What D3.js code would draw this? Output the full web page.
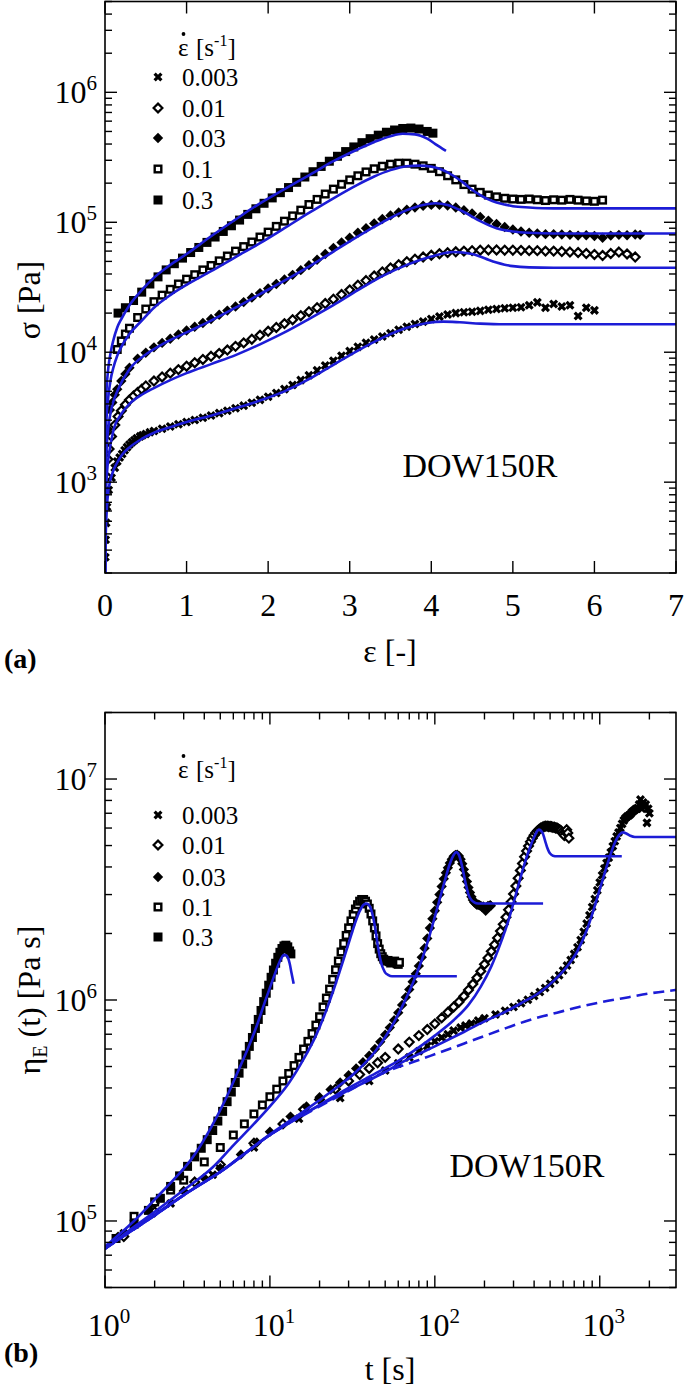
<!DOCTYPE html>
<html><head><meta charset="utf-8">
<script src="https://cdn.jsdelivr.net/npm/d3@7"></script>
<style>
body{margin:0;background:#fff;}
svg{display:block;}
text, tspan{font-family:"Liberation Serif","DejaVu Serif","Times New Roman",serif !important;}
</style></head><body>
<svg id="chart" width="685" height="1386" font-family="Liberation Serif, DejaVu Serif, serif"></svg>
<script>
// ---------- DATA (top-panel form: [strain, stress Pa]) ----------
const rates = [0.003, 0.01, 0.03, 0.1, 0.3];
const rateLabels = ["0.003", "0.01", "0.03", "0.1", "0.3"];
const markerTypes = ["cross", "openDiamond", "diamond", "openSquare", "square"];

const exp_0003 = [[0.0039,264],[0.0075,360],[0.0135,486],[0.024,645],[0.045,870],[0.08,1080],[0.12,1290],[0.15,1440],[0.18,1550],[0.21,1650],[0.24,1760],[0.27,1860],[0.30,1950],[0.33,2030],[0.36,2100],[0.39,2180],[0.43,2250],[0.46,2300],[0.50,2350],[0.55,2420],[0.60,2480],[0.70,2580],[0.80,2680],[0.90,2790],[1.00,2900],[1.10,3010],[1.20,3130],[1.30,3260],[1.40,3400],[1.50,3550],[1.60,3700],[1.70,3880],[1.80,4080],[1.90,4300],[2.00,4550],[2.10,4850],[2.20,5200],[2.30,5600],[2.40,6100],[2.50,6650],[2.60,7250],[2.70,7900],[2.80,8600],[2.90,9400],[3.00,10200],[3.10,11000],[3.20,11800],[3.30,12500],[3.40,13200],[3.50,14000],[3.60,14900],[3.70,15700],[3.80,16500],[3.90,17200],[4.00,18000],[4.10,18800],[4.20,19500],[4.30,20000],[4.40,20300],[4.50,20500],[4.60,20800],[4.70,21200],[4.80,21500],[4.90,21800],[5.00,22000],[5.10,22200],[5.20,23000],[5.30,24200],[5.40,22000],[5.50,23500],[5.60,22500],[5.70,23000],[5.80,19000],[5.90,22000],[6.00,21000]];
const exp_001 = [[0.013,850],[0.02,1100],[0.035,1500],[0.05,1800],[0.08,2250],[0.12,2750],[0.16,3200],[0.2,3550],[0.25,3950],[0.3,4300],[0.35,4600],[0.4,4900],[0.45,5200],[0.5,5500],[0.6,6000],[0.7,6450],[0.8,6900],[0.9,7350],[1.0,7800],[1.1,8300],[1.2,8800],[1.3,9300],[1.4,9800],[1.5,10400],[1.6,11100],[1.7,11800],[1.8,12600],[1.9,13500],[2.0,14500],[2.1,15500],[2.2,16600],[2.3,17800],[2.4,19100],[2.5,20500],[2.6,22000],[2.7,23700],[2.8,25600],[2.9,27800],[3.0,30200],[3.1,32800],[3.2,35600],[3.3,38600],[3.4,41500],[3.5,44500],[3.6,47200],[3.7,49700],[3.8,52000],[3.9,54000],[4.0,55700],[4.1,57200],[4.2,58400],[4.3,59300],[4.4,60000],[4.5,60500],[4.6,61000],[4.7,61200],[4.8,61200],[4.9,61000],[5.0,61000],[5.1,60800],[5.2,60500],[5.3,60500],[5.4,60000],[5.5,60000],[5.6,59500],[5.7,59000],[5.8,58500],[5.9,57500],[6.0,56500],[6.1,55500],[6.2,57500],[6.3,59000],[6.4,57000],[6.5,54000]];
const exp_003 = [[0.036,2550],[0.06,3600],[0.09,4100],[0.12,4700],[0.15,5200],[0.2,6000],[0.25,6800],[0.3,7600],[0.4,8900],[0.5,9900],[0.6,10900],[0.7,11800],[0.8,12700],[0.9,13700],[1.0,14700],[1.1,15700],[1.2,16800],[1.3,18000],[1.4,19400],[1.5,20900],[1.6,22500],[1.7,24300],[1.8,26300],[1.9,28500],[2.0,30900],[2.1,33500],[2.2,36300],[2.3,39400],[2.4,42800],[2.5,46800],[2.6,51500],[2.7,57000],[2.8,63500],[2.9,70000],[3.0,76000],[3.1,83000],[3.2,90000],[3.3,98000],[3.4,106000],[3.5,113000],[3.6,119000],[3.7,125000],[3.8,130000],[3.9,134000],[4.0,136000],[4.1,136500],[4.2,134500],[4.3,130000],[4.4,124000],[4.5,117000],[4.6,110000],[4.7,103000],[4.8,97000],[4.9,92000],[5.0,88000],[5.1,85000],[5.2,83000],[5.3,82000],[5.4,81000],[5.5,81000],[5.6,80500],[5.7,80000],[5.8,79000],[5.9,79500],[6.0,78500],[6.1,76000],[6.2,79000],[6.3,80000],[6.4,79500],[6.5,80500],[6.56,80000]];
const exp_01 = [[0.15,10500],[0.2,12200],[0.25,13800],[0.3,15300],[0.4,18500],[0.5,21500],[0.6,24500],[0.7,27500],[0.8,30500],[0.9,33500],[1.0,36500],[1.1,39500],[1.2,43000],[1.3,46500],[1.4,50500],[1.5,55000],[1.6,60000],[1.7,65000],[1.8,70500],[1.9,77000],[2.0,84000],[2.1,93000],[2.2,102000],[2.3,112000],[2.4,124000],[2.5,137000],[2.6,150000],[2.7,165000],[2.8,180000],[2.9,196000],[3.0,212000],[3.1,228000],[3.2,244000],[3.3,258000],[3.4,270000],[3.5,280000],[3.6,285000],[3.7,285000],[3.8,280000],[3.9,272000],[4.0,260000],[4.1,245000],[4.2,228000],[4.3,212000],[4.4,195000],[4.5,180000],[4.6,170000],[4.7,162000],[4.8,157000],[4.9,153000],[5.0,151000],[5.1,150000],[5.2,151000],[5.3,149000],[5.4,147000],[5.5,149000],[5.6,148000],[5.7,150000],[5.8,148000],[5.9,146000],[6.0,145000],[6.1,148000]];
const exp_03 = [[0.16,20000],[0.25,22000],[0.35,25000],[0.45,29000],[0.55,33500],[0.65,38000],[0.75,43000],[0.85,48000],[0.95,53000],[1.05,58500],[1.15,64000],[1.25,70000],[1.35,77000],[1.45,85000],[1.55,94000],[1.65,104000],[1.75,115000],[1.85,127000],[1.95,140000],[2.05,154000],[2.15,169000],[2.25,185000],[2.35,203000],[2.45,223000],[2.55,245000],[2.65,269000],[2.75,295000],[2.85,322000],[2.95,350000],[3.05,380000],[3.15,410000],[3.25,440000],[3.35,468000],[3.45,493000],[3.55,513000],[3.65,527000],[3.75,531000],[3.85,522000],[3.95,500000],[4.02,485000]];

const model_0003 = [[0,100],[0.0015,150],[0.003,225],[0.006,318],[0.009,393],[0.015,500],[0.03,735],[0.06,1000],[0.09,1170],[0.14,1380],[0.2,1600],[0.3,1850],[0.45,2150],[0.6,2400],[0.8,2650],[1.0,2900],[1.3,3250],[1.6,3700],[1.9,4250],[2.2,5000],[2.5,6200],[2.8,8000],[3.1,10300],[3.4,12900],[3.7,15400],[3.95,16800],[4.15,17200],[4.35,17000],[4.6,16600],[4.9,16400],[8.7,16400]];
const model_001 = [[0,150],[0.001,210],[0.003,390],[0.01,750],[0.02,1060],[0.03,1310],[0.05,1670],[0.1,2450],[0.2,3350],[0.3,4000],[0.46,4750],[0.6,5300],[0.8,6100],[1.0,6900],[1.3,8100],[1.6,9500],[1.9,11500],[2.2,14200],[2.5,18000],[2.8,23000],[3.1,30000],[3.4,38500],[3.7,47000],[4.0,54500],[4.27,59000],[4.5,57000],[4.6,54500],[4.7,51500],[4.8,49000],[4.9,47200],[5.0,46000],[5.2,45000],[5.5,44700],[13.6,44700]];
const model_003 = [[0,150],[0.001,360],[0.003,630],[0.01,1230],[0.02,1800],[0.03,2250],[0.06,3200],[0.09,3930],[0.15,5000],[0.3,7400],[0.5,9600],[0.7,11500],[1.0,14200],[1.3,17500],[1.6,22000],[1.9,28000],[2.2,35500],[2.5,45500],[2.8,59500],[3.1,78000],[3.4,100000],[3.7,124000],[3.9,136000],[4.05,140000],[4.2,136000],[4.4,120000],[4.6,102000],[4.8,90000],[5.0,85000],[5.2,83000],[5.5,82000],[13.6,82000]];
const model_01 = [[0,150],[0.0005,500],[0.002,1000],[0.005,1700],[0.01,2300],[0.02,3200],[0.04,4500],[0.07,6200],[0.1,7500],[0.15,9400],[0.2,11000],[0.3,13800],[0.45,17500],[0.6,22000],[0.8,27500],[1.0,33000],[1.3,42000],[1.6,54000],[1.9,69000],[2.2,90000],[2.5,118000],[2.8,153000],[3.1,195000],[3.3,225000],[3.5,252000],[3.7,270000],[3.85,273000],[4.0,268000],[4.1,258000],[4.2,242000],[4.3,222000],[4.4,200000],[4.5,178000],[4.6,162000],[4.7,150000],[4.8,142000],[4.9,137000],[5.0,133000],[5.2,130000],[5.5,128000],[13.6,128000]];
const model_03 = [[0,150],[0.0005,800],[0.002,1600],[0.005,2800],[0.01,3800],[0.02,5300],[0.04,7500],[0.07,10000],[0.1,12200],[0.15,15500],[0.2,18000],[0.3,23000],[0.45,30000],[0.6,37500],[0.8,47000],[1.0,57000],[1.3,78000],[1.6,105000],[1.9,140000],[2.2,180000],[2.5,230000],[2.8,295000],[3.1,365000],[3.3,415000],[3.5,460000],[3.65,480000],[3.8,475000],[3.95,440000],[4.05,400000],[4.18,355000]];

// linear viscoelastic envelope, bottom-panel form [t s, eta Pa s]
const lve = [[1,75000],[2,106000],[3,131000],[5,167000],[10,245000],[20,330000],[30,388000],[46,460000],[80,535000],[120,597000],[185,673000],[270,746000],[372,810000],[550,876000],[748,930000],[1000,975000],[1500,1030000],[2000,1070000],[2900,1110000]];

const expSets = [exp_0003, exp_001, exp_003, exp_01, exp_03];
const modelSets = [model_0003, model_001, model_003, model_01, model_03];

const strainTicks = [0, 1, 2, 3, 4, 5, 6, 7];

// ---------- DRAWING ----------
const svg = d3.select("#chart");
const SERIF = "Liberation Serif, DejaVu Serif, serif";
const BLUE = "#1c1cd6";
const FONT_TICK = 32, FONT_SUP = 21;

function txt(g) { return g.append("text").attr("font-family", SERIF); }

function marker(g, type, x, y) {
  if (type === "square") {
    g.append("rect").attr("x", x - 4.5).attr("y", y - 4.5).attr("width", 9).attr("height", 9).attr("fill", "#000");
  } else if (type === "openSquare") {
    g.append("rect").attr("x", x - 3.3).attr("y", y - 3.3).attr("width", 6.6).attr("height", 6.6)
      .attr("fill", "#fff").attr("stroke", "#000").attr("stroke-width", 2.4);
  } else if (type === "diamond") {
    const r = 5.2;
    g.append("path").attr("d", `M${x},${y - r}L${x + r},${y}L${x},${y + r}L${x - r},${y}Z`).attr("fill", "#000");
  } else if (type === "openDiamond") {
    const r = 4.4;
    g.append("path").attr("d", `M${x},${y - r}L${x + r},${y}L${x},${y + r}L${x - r},${y}Z`)
      .attr("fill", "#fff").attr("stroke", "#000").attr("stroke-width", 2.2);
  } else {
    const r = 3.4;
    g.append("path").attr("d", `M${x - r},${y - r}L${x + r},${y + r}M${x + r},${y - r}L${x - r},${y + r}`)
      .attr("stroke", "#000").attr("stroke-width", 3.2).attr("fill", "none");
    g.append("rect").attr("x", x - 2).attr("y", y - 2).attr("width", 4).attr("height", 4).attr("fill", "#000");
  }
}

function powLabel(sel, e) {
  sel.text("10");
  sel.append("tspan").attr("dy", -13).attr("font-size", FONT_SUP).text(e);
}

function isMajor(v) { const l = Math.log10(v); return Math.abs(l - Math.round(l)) < 1e-6; }

function legend(g, x0, headerY, rowYs) {
  txt(g).attr("x", x0 + 20).attr("y", headerY).attr("font-size", 25).text("ε");
  g.append("circle").attr("cx", x0 + 25.5).attr("cy", headerY - 22).attr("r", 1.9).attr("fill", "#000");
  const t = txt(g).attr("x", x0 + 38).attr("y", headerY).attr("font-size", 25).text("[s");
  t.append("tspan").attr("dy", -10).attr("font-size", 16).text("-1");
  t.append("tspan").attr("dy", 10).text("]");
  rates.forEach((r, i) => {
    marker(g, markerTypes[i], x0, rowYs[i]);
    txt(g).attr("x", x0 + 24).attr("y", rowYs[i] + 9).attr("font-size", 25).text(rateLabels[i]);
  });
}

// ===== Panel (a) =====
const L = 105, R = 676;
const xA = d3.scaleLinear().domain([0, 7]).range([L, R]);
const yA = d3.scaleLog().domain([200, 5e6]).range([573, 1.5]);
const defs = svg.append("defs");
defs.append("clipPath").attr("id", "clipA").append("rect")
  .attr("x", L).attr("y", 1.5).attr("width", R - L).attr("height", 573 - 1.5);

const gA = svg.append("g");
const gAm = gA.append("g").attr("clip-path", "url(#clipA)");
expSets.forEach((set, i) => {
  set.forEach(d => marker(gAm, markerTypes[i], xA(d[0]), yA(d[1])));
});
const lineA = d3.line().x(d => xA(d[0])).y(d => yA(d[1])).curve(d3.curveMonotoneX);
modelSets.forEach(set => {
  gAm.append("path").attr("d", lineA(set)).attr("fill", "none").attr("stroke", BLUE).attr("stroke-width", 2.6);
});

gA.append("rect").attr("x", L).attr("y", 1.5).attr("width", R - L).attr("height", 573 - 1.5)
  .attr("fill", "none").attr("stroke", "#000").attr("stroke-width", 1.6);
yA.ticks().forEach(v => {
  const y = yA(v), len = isMajor(v) ? 12 : 7;
  gA.append("line").attr("x1", L).attr("x2", L + len).attr("y1", y).attr("y2", y).attr("stroke", "#000").attr("stroke-width", 1.4);
  gA.append("line").attr("x1", R).attr("x2", R - len).attr("y1", y).attr("y2", y).attr("stroke", "#000").attr("stroke-width", 1.4);
  if (isMajor(v)) {
    const t = txt(gA).attr("x", 97).attr("y", y + 11).attr("text-anchor", "end").attr("font-size", FONT_TICK);
    powLabel(t, Math.round(Math.log10(v)));
  }
});
strainTicks.forEach(v => {
  const x = xA(v);
  gA.append("line").attr("x1", x).attr("x2", x).attr("y1", 573).attr("y2", 573 - 12).attr("stroke", "#000").attr("stroke-width", 1.4);
  gA.append("line").attr("x1", x).attr("x2", x).attr("y1", 1.5).attr("y2", 1.5 + 12).attr("stroke", "#000").attr("stroke-width", 1.4);
  txt(gA).attr("x", x).attr("y", 616).attr("text-anchor", "middle").attr("font-size", FONT_TICK).text(v);
});
txt(gA).attr("transform", "translate(40,300) rotate(-90)").attr("text-anchor", "middle")
  .attr("font-size", 32).text("σ [Pa]");
txt(gA).attr("x", 390).attr("y", 662).attr("text-anchor", "middle").attr("font-size", 32).text("ε [-]");
txt(gA).attr("x", 4).attr("y", 668).attr("font-size", 28).attr("font-weight", "bold").text("(a)");
txt(gA).attr("x", 480).attr("y", 477).attr("text-anchor", "middle").attr("font-size", 34).text("DOW150R");
legend(gA, 158, 56, [77, 108, 138, 169, 200]);

// ===== Panel (b) =====
const TB = 712.5, BB = 1287.5;
const xB = d3.scaleLog().domain([1, 2900]).range([L, R]);
const yB = d3.scaleLog().domain([5e4, 2e7]).range([BB, TB]);
defs.append("clipPath").attr("id", "clipB").append("rect")
  .attr("x", L).attr("y", TB).attr("width", R - L).attr("height", BB - TB);
const gB = svg.append("g");
const gBm = gB.append("g").attr("clip-path", "url(#clipB)");
expSets.forEach((set, i) => {
  const r = rates[i];
  set.forEach(d => {
    const t = d[0] / r, eta = d[1] / r;
    if (t >= 0.9) marker(gBm, markerTypes[i], xB(t), yB(eta));
  });
});
const lineB = d3.line().x(d => xB(d[0])).y(d => yB(d[1])).curve(d3.curveMonotoneX);
modelSets.forEach((set, i) => {
  const r = rates[i];
  const pts = set.filter(d => d[0] > 0).map(d => [d[0] / r, d[1] / r]);
  gBm.append("path").attr("d", lineB(pts)).attr("fill", "none").attr("stroke", BLUE).attr("stroke-width", 2.6);
});
gBm.append("path").attr("d", lineB(lve)).attr("fill", "none").attr("stroke", BLUE)
  .attr("stroke-width", 2.6).attr("stroke-dasharray", "11,6");

gB.append("rect").attr("x", L).attr("y", TB).attr("width", R - L).attr("height", BB - TB)
  .attr("fill", "none").attr("stroke", "#000").attr("stroke-width", 1.6);
yB.ticks().forEach(v => {
  const y = yB(v), len = isMajor(v) ? 12 : 7;
  gB.append("line").attr("x1", L).attr("x2", L + len).attr("y1", y).attr("y2", y).attr("stroke", "#000").attr("stroke-width", 1.4);
  gB.append("line").attr("x1", R).attr("x2", R - len).attr("y1", y).attr("y2", y).attr("stroke", "#000").attr("stroke-width", 1.4);
  if (isMajor(v)) {
    const t = txt(gB).attr("x", 97).attr("y", y + 11).attr("text-anchor", "end").attr("font-size", FONT_TICK);
    powLabel(t, Math.round(Math.log10(v)));
  }
});
xB.ticks().forEach(v => {
  const x = xB(v), len = isMajor(v) ? 12 : 7;
  gB.append("line").attr("x1", x).attr("x2", x).attr("y1", BB).attr("y2", BB - len).attr("stroke", "#000").attr("stroke-width", 1.4);
  gB.append("line").attr("x1", x).attr("x2", x).attr("y1", TB).attr("y2", TB + len).attr("stroke", "#000").attr("stroke-width", 1.4);
  if (isMajor(v)) {
    const t = txt(gB).attr("x", x + 4).attr("y", 1336).attr("text-anchor", "middle").attr("font-size", FONT_TICK);
    powLabel(t, Math.round(Math.log10(v)));
  }
});
const yl = txt(gB).attr("transform", "translate(40,1000) rotate(-90)").attr("text-anchor", "middle").attr("font-size", 32);
yl.append("tspan").text("η");
yl.append("tspan").attr("dy", 7).attr("font-size", 20).text("E");
yl.append("tspan").attr("dy", -7).text(" (t) [Pa s]");
txt(gB).attr("x", 390).attr("y", 1380).attr("text-anchor", "middle").attr("font-size", 32).text("t [s]");
txt(gB).attr("x", 4).attr("y", 1362).attr("font-size", 28).attr("font-weight", "bold").text("(b)");
txt(gB).attr("x", 527).attr("y", 1177).attr("text-anchor", "middle").attr("font-size", 34).text("DOW150R");
legend(gB, 158, 778, [815, 845, 877, 907, 937]);
</script></body></html>
